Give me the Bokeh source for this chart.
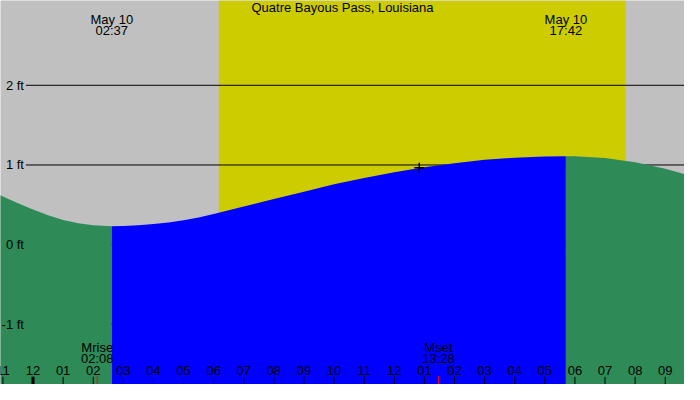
from bokeh.plotting import figure
from bokeh.models import Range1d
from bokeh.core.properties import value
from bokeh.embed import file_html
from bokeh.resources import INLINE

# ---- data (hours since midnight May 10, heights in ft) ----
title_text = "Quatre Bayous Pass, Louisiana"
tide_hours = [-2, -1, -0.5, 0, 0.5, 1, 1.5, 2, 2.617, 3, 3.5, 4, 4.5, 5, 5.5, 6, 7, 8,
              9, 10, 11, 12, 13, 14, 15, 16, 17, 17.70, 18, 19, 20, 21, 22]
tide_heights = [0.78, 0.605, 0.52, 0.44, 0.37, 0.31, 0.27, 0.245, 0.23, 0.235, 0.244,
                0.258, 0.279, 0.305, 0.342, 0.385, 0.478, 0.572, 0.665, 0.758, 0.838,
                0.91, 0.972, 1.022, 1.064, 1.09, 1.106, 1.11, 1.109, 1.086, 1.034,
                0.954, 0.846]
low_time, high_time = 2.617, 17.70          # 02:37, 17:42
extreme_times = [low_time, high_time]
extreme_dates = ["May 10", "May 10"]
extreme_labels = ["02:37", "17:42"]
sunrise, sunset = 6.17, 19.68
moon_times = [2.133, 13.467]
moon_names = ["Mrise", "Mset"]
moon_labels = ["02:08", "13:28"]
now_time, now_height = 12.83, 0.964
tick_hours = list(range(-1, 22))
tick_labels = ["11", "12", "01", "02", "03", "04", "05", "06", "07", "08", "09",
               "10", "11", "12", "01", "02", "03", "04", "05", "06", "07", "08", "09"]
ft_levels = [2, 1, 0, -1]
ft_labels = ["2 ft", "1 ft", "0 ft", "-1 ft"]

# ---- ranges / styling ----
X0, X1 = -1.08, 21.64
Y0, Y1 = -1.755, 3.064
GRAY, YELLOW, GREEN, BLUE = "#C0C0C0", "#CCCC00", "#2E8B57", "#0000FF"
FONT = value("Liberation Sans")
FS = "13px"
PX = (Y1 - Y0) / 400.0       # ft per reference pixel (vertical)
HX = (X1 - X0) / 700.0       # hours per reference pixel (horizontal)

p = figure(width=684, height=384, x_range=Range1d(X0, X1), y_range=Range1d(Y0, Y1),
           output_backend="svg", toolbar_location=None, min_border=0,
           background_fill_color=GRAY, border_fill_color=GRAY)
p.axis.visible = False
p.grid.visible = False
p.outline_line_color = None

# daylight
p.quad(left=[sunrise], right=[sunset], bottom=[Y0], top=[Y1], color=YELLOW, line_color=None)

# horizontal level lines
p.segment(x0=[X0 + 26 * HX] * len(ft_levels), x1=[X1] * len(ft_levels),
          y0=ft_levels, y1=ft_levels, line_color="black", line_width=1)

# tide fills
def seg(a, b):
    xs = [h for h in tide_hours if a <= h <= b]
    ys = [v for h, v in zip(tide_hours, tide_heights) if a <= h <= b]
    return xs, ys

for (a, b), col in [((-99, low_time), GREEN), ((low_time, high_time), BLUE), ((high_time, 99), GREEN)]:
    xs, ys = seg(a, b)
    p.varea(x=xs, y1=[Y0] * len(xs), y2=ys, fill_color=col)

txt = dict(text_baseline="middle", text_font=FONT, text_font_size=FS, text_color="black")

# level labels
p.text(x=[X0 + 24 * HX] * len(ft_levels), y=ft_levels, text=ft_labels, text_align="right", **txt)

# title
p.text(x=[(X0 + X1) / 2], y=[Y1 - 7.5 * PX], text=[title_text], text_align="center", **txt)

# extreme labels
p.text(x=extreme_times, y=[Y1 - 19.5 * PX] * 2, text=extreme_dates, text_align="center", **txt)
p.text(x=extreme_times, y=[Y1 - 31.5 * PX] * 2, text=extreme_labels, text_align="center", **txt)

# moon labels
p.text(x=moon_times, y=[Y0 + 39 * PX] * 2, text=moon_names, text_align="center", **txt)
p.text(x=moon_times, y=[Y0 + 27 * PX] * 2, text=moon_labels, text_align="center", **txt)

# hour ticks and labels
p.segment(x0=tick_hours, x1=tick_hours, y0=[Y0] * len(tick_hours),
          y1=[Y0 + 8 * PX] * len(tick_hours), line_color="black", line_width=1)
p.segment(x0=[0], x1=[0], y0=[Y0], y1=[Y0 + 8 * PX], line_color="black", line_width=3)
p.segment(x0=moon_times, x1=moon_times, y0=[Y0] * 2, y1=[Y0 + 9 * PX] * 2,
          line_color="red", line_width=1)
p.text(x=tick_hours, y=[Y0 + 15 * PX] * len(tick_hours), text=tick_labels, text_align="center", **txt)

# current time marker
p.scatter(x=[now_time], y=[now_height], marker="cross", size=10, line_color="black", line_width=1.5)

open("out.html", "w").write(file_html(p, INLINE))
